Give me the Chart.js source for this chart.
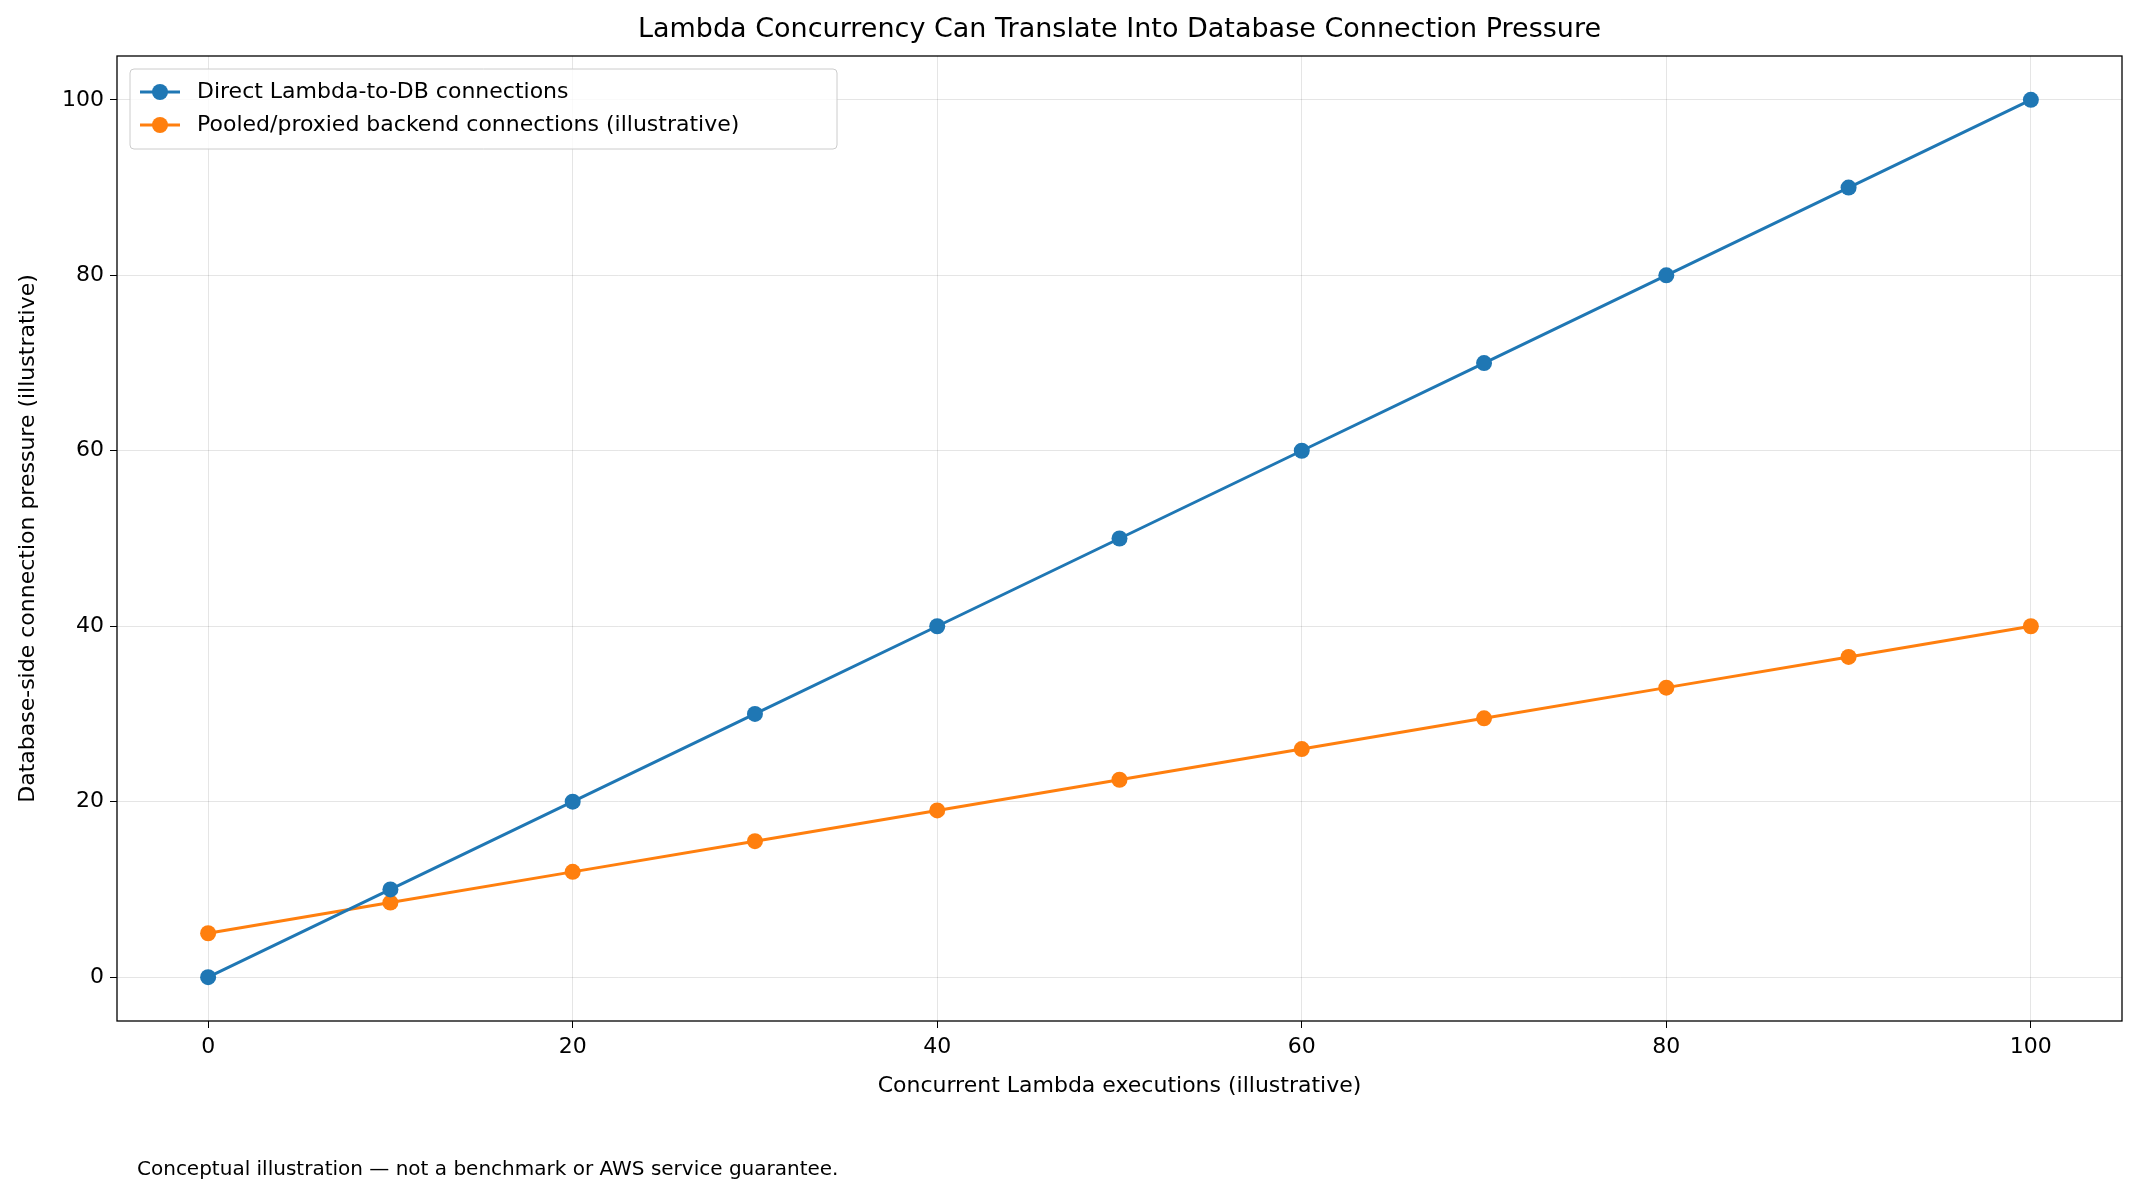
<!DOCTYPE html>
<html>
<head>
<meta charset="utf-8">
<script src="https://cdn.jsdelivr.net/npm/chart.js@4"></script>
<style>
  html, body { margin: 0; padding: 0; background: #fff; }
  #wrap { width: 2140px; height: 1199px; }
</style>
</head>
<body>
<div id="wrap"><canvas id="chart" width="2140" height="1199"></canvas></div>
<script>
// Chart data
const executions = [0, 10, 20, 30, 40, 50, 60, 70, 80, 90, 100];
const directConnections = [0, 10, 20, 30, 40, 50, 60, 70, 80, 90, 100];
const pooledConnections = [5, 8.5, 12, 15.5, 19, 22.5, 26, 29.5, 33, 36.5, 40];
const seriesLabels = ['Direct Lambda-to-DB connections', 'Pooled/proxied backend connections (illustrative)'];
const seriesColors = ['#1f77b4', '#ff7f0e'];

const FONT = 'DejaVu Sans';

const toPoints = (ys) => executions.map((x, i) => ({ x, y: ys[i] }));

// draws title, axis titles, frame, legend and footnote
const decorations = {
    id: 'decorations',
    afterDraw(chart) {
        const ctx = chart.ctx;
        const a = chart.chartArea;
        ctx.save();
        ctx.strokeStyle = '#000';
        ctx.lineWidth = 1.3;
        ctx.strokeRect(a.left, a.top, a.right - a.left, a.bottom - a.top);

        ctx.fillStyle = '#000';
        ctx.textAlign = 'center';
        ctx.textBaseline = 'middle';
        ctx.font = `27px ${FONT}`;
        ctx.fillText('Lambda Concurrency Can Translate Into Database Connection Pressure', (a.left + a.right) / 2, 30);

        ctx.font = `22px ${FONT}`;
        ctx.fillText('Concurrent Lambda executions (illustrative)', (a.left + a.right) / 2, 1086);
        ctx.save();
        ctx.translate(28, (a.top + a.bottom) / 2);
        ctx.rotate(-Math.PI / 2);
        ctx.fillText('Database-side connection pressure (illustrative)', 0, 0);
        ctx.restore();

        ctx.textAlign = 'left';
        ctx.font = `20px ${FONT}`;
        ctx.fillText('Conceptual illustration \u2014 not a benchmark or AWS service guarantee.', 137, 1170);

        // legend
        const lx = a.left + 13, ly = a.top + 13;
        ctx.fillStyle = 'rgba(255,255,255,0.8)';
        ctx.strokeStyle = '#ccc';
        ctx.lineWidth = 1;
        ctx.beginPath();
        ctx.roundRect(lx, ly, 707, 80, 4);
        ctx.fill();
        ctx.stroke();
        ctx.font = `22px ${FONT}`;
        seriesLabels.forEach((label, i) => {
            const y = ly + 23 + i * 33;
            ctx.strokeStyle = seriesColors[i];
            ctx.lineWidth = 3;
            ctx.beginPath();
            ctx.moveTo(lx + 10, y);
            ctx.lineTo(lx + 50, y);
            ctx.stroke();
            ctx.fillStyle = seriesColors[i];
            ctx.beginPath();
            ctx.arc(lx + 30, y, 8, 0, Math.PI * 2);
            ctx.fill();
            ctx.fillStyle = '#000';
            ctx.fillText(label, lx + 67, y);
        });
        ctx.restore();
    }
};

new Chart(document.getElementById('chart'), {
    type: 'line',
    data: {
        datasets: [directConnections, pooledConnections].map((ys, i) => ({
            label: seriesLabels[i],
            data: toPoints(ys),
            borderColor: seriesColors[i],
            backgroundColor: seriesColors[i],
            borderWidth: 3,
            pointRadius: 8,
            pointHoverRadius: 8,
            pointBorderWidth: 0,
            tension: 0
        }))
    },
    options: {
        responsive: false,
        animation: false,
        devicePixelRatio: 1,
        layout: { padding: { top: 56, right: 18, left: 0, bottom: 0 } },
        plugins: { legend: { display: false }, tooltip: { enabled: false } },
        scales: {
            x: {
                type: 'linear',
                min: -5,
                max: 105,
                afterBuildTicks: (s) => { s.ticks = [0, 20, 40, 60, 80, 100].map(v => ({ value: v })); },
                afterFit: (s) => { s.height = 178; },
                grid: { color: 'rgba(0,0,0,0.1)', drawTicks: true, tickLength: 7, tickColor: '#000' },
                border: { display: false },
                ticks: { color: '#000', font: { family: FONT, size: 22 }, padding: 6, maxRotation: 0 }
            },
            y: {
                min: -5,
                max: 105,
                afterBuildTicks: (s) => { s.ticks = [0, 20, 40, 60, 80, 100].map(v => ({ value: v })); },
                afterFit: (s) => { s.width = 117; },
                grid: { color: 'rgba(0,0,0,0.1)', drawTicks: true, tickLength: 7, tickColor: '#000' },
                border: { display: false },
                ticks: { color: '#000', font: { family: FONT, size: 22 }, padding: 6 }
            }
        }
    },
    plugins: [decorations]
});
</script>
</body>
</html>
